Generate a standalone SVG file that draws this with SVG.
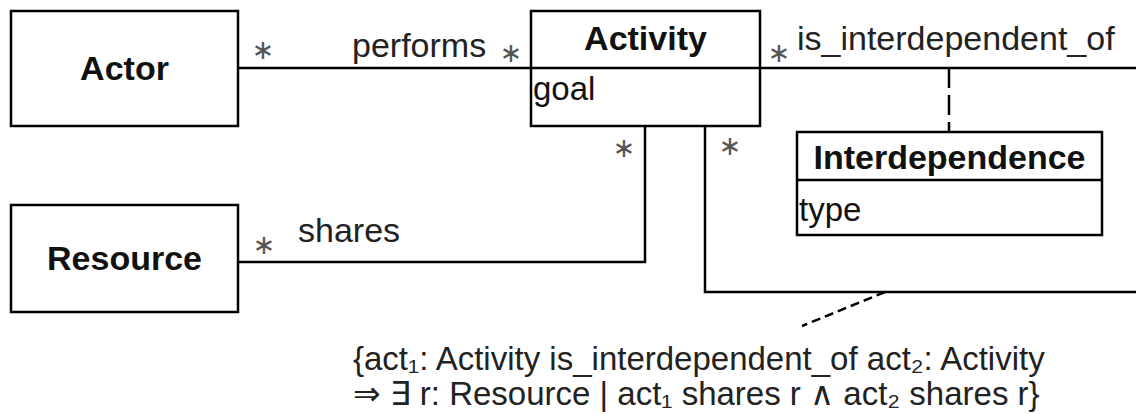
<svg xmlns="http://www.w3.org/2000/svg" width="1136" height="414" viewBox="0 0 1136 414">
<style>
.box{fill:#fff;stroke:#000;stroke-width:2.5}
.sep{stroke:#000;stroke-width:2.5}
.title{font-family:"Liberation Sans",Arial,sans-serif;font-weight:bold;font-size:34px;fill:#111;text-anchor:middle}
.attr{font-family:"Liberation Sans",Arial,sans-serif;font-size:33px;fill:#111}
.lbl{font-family:"Liberation Sans",Arial,sans-serif;font-size:34px;fill:#222}
.note{font-family:"Liberation Sans","DejaVu Sans",Arial,sans-serif;font-size:33px;fill:#222}
.mult{font-family:"DejaVu Sans",sans-serif;font-size:27px;fill:#555;text-anchor:middle}
.line{fill:none;stroke:#000;stroke-width:2.5}
.dash1{fill:none;stroke:#000;stroke-width:2.5;stroke-dasharray:20 7}
.dash2{fill:none;stroke:#000;stroke-width:2.5;stroke-dasharray:9 5}
</style>
<g id="connectors">
<path class="line" d="M238,68 H531"/>
<path class="line" d="M760,68 H1136"/>
<path class="line" d="M238,262 H645 V126"/>
<path class="line" d="M705,126 V292 H1136"/>
<path class="dash1" d="M949,68 V132"/>
<path class="dash2" d="M885,292 L802,326"/>
<text class="lbl" x="352" y="57">performs</text>
<text class="lbl" x="797" y="50">is_interdependent_of</text>
<text class="lbl" x="298" y="242">shares</text>
<text class="mult" x="263" y="59">∗</text>
<text class="mult" x="511" y="62">∗</text>
<text class="mult" x="779" y="62">∗</text>
<text class="mult" x="624" y="157">∗</text>
<text class="mult" x="730" y="155">∗</text>
<text class="mult" x="264" y="254">∗</text>
</g>
<g id="actor">
<rect class="box" x="11" y="11" width="227" height="115"/>
<text class="title" x="124.5" y="80">Actor</text>
</g>
<g id="activity">
<rect class="box" x="531" y="11" width="229" height="115"/>
<line class="sep" x1="531" y1="68" x2="760" y2="68"/>
<text class="title" x="645.5" y="50">Activity</text>
<text class="attr" x="533" y="100">goal</text>
</g>
<g id="interdependence">
<rect class="box" x="797" y="132" width="305" height="103"/>
<line class="sep" x1="797" y1="180" x2="1102" y2="180"/>
<text class="title" x="949.5" y="169">Interdependence</text>
<text class="attr" x="799" y="221">type</text>
</g>
<g id="resource">
<rect class="box" x="11" y="205" width="227" height="107"/>
<text class="title" x="124.5" y="270">Resource</text>
</g>
<g id="constraint">
<text class="note" x="353" y="370">{act₁: Activity is_interdependent_of act₂: Activity</text>
<text class="note" x="353" y="405">⇒ ∃ r: Resource | act₁ shares r ∧ act₂ shares r}</text>
</g>
</svg>
